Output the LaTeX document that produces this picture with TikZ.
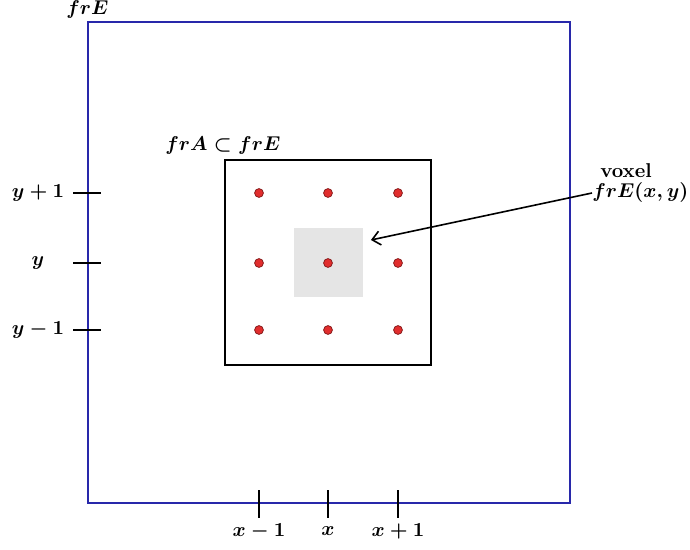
\documentclass[tikz,border=0pt]{standalone}
\usepackage{amsmath}
\usepackage{xcolor}
\usepackage{tikz}
\usetikzlibrary{arrows.meta}

\definecolor{dotred}{RGB}{225,45,45}
\definecolor{frameblue}{RGB}{40,40,170}

\begin{document}
\begin{tikzpicture}[x=0.5pt,y=-0.5pt,font=\boldmath,
  dot/.style={circle,draw=dotred!60!black,fill=dotred,inner sep=0pt,minimum size=4.4pt}]
\useasboundingbox (0,0) rectangle (690,550);
% outer image frE
\draw[frameblue,line width=0.55pt] (88,22) rectangle (570,503);
\node[anchor=base west,inner sep=0pt] (frE) at (66,15) {$frE$};
% voxel and window frA
\node[fill=gray!20,inner sep=0pt,minimum size=34.5pt] (vox) at (328,263) {};
\draw[line width=1.3pt] (225,160) rectangle (431,365);
\node[anchor=base west,inner sep=0pt] (frA) at (165,151) {$frA \subset frE$};
\foreach \x in {259,328,398}
  \foreach \y in {193,263,330}
    \node[dot] (p-\x-\y) at (\x,\y) {};
% ticks
\foreach \y/\t in {193/y+1,263/y,330/y-1} {
  \coordinate (l-\y) at (73,\y);
  \draw[line width=0.7pt] (l-\y) -- (101,\y);
  \node at (38,\y) {$\t$};
}
\foreach \x/\t in {259/x-1,328/x,398/x+1} {
  \coordinate (b-\x) at (\x,518);
  \draw[line width=0.7pt] (\x,490) -- (b-\x);
  \node at (\x,531) {$\t$};
}
% label with arrow
\node (vlab) at (626,171) {\textbf{voxel}};
\node[anchor=west,inner sep=0pt] (vpos) at (592,193) {$frE(x,y)$};
\draw[-{Straight Barb[length=4pt,width=7pt]},line width=0.8pt] (vpos.west) -- ([shift={(8,-23)}]vox.east);
\end{tikzpicture}
\end{document}
